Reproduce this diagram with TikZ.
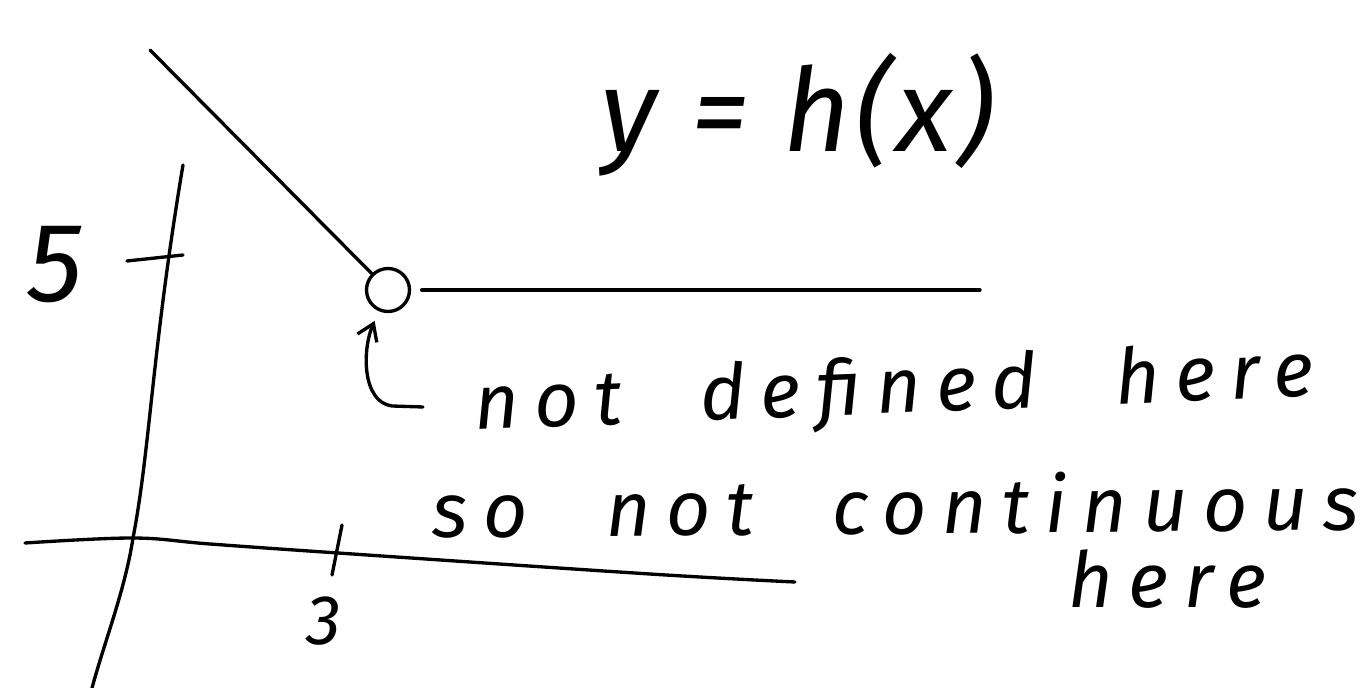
\documentclass[tikz,border=0pt]{standalone}
\usepackage{fontspec}
\usetikzlibrary{arrows.meta, positioning}
\newfontfamily\hand[LetterSpace=20, WordSpace=2.2]{Fira Sans}
\newfontfamily\handeq[LetterSpace=4]{Fira Sans}
\tikzset{
  pen/.style={line width=1.9pt, line cap=round, line join=round},
  scrawl/.style={font=\hand\itshape\fontsize{44}{48}\selectfont, inner sep=0pt, anchor=base west},
  hole/.style={circle, draw, pen, minimum size=0.86cm, inner sep=0pt},
}

\begin{document}
\begin{tikzpicture}[x=0.02cm, y=-0.02cm]
    \useasboundingbox (0,0) rectangle (1368,688);

    % --- axes ---
    \draw[pen] (183,165) .. controls (152,350) and (150,450) .. (133,538)
               .. controls (125,590) and (105,640) .. (92,688);
    \draw[pen] plot[smooth, tension=0.6] coordinates {(25,543) (133,538) (210,544) (338,553) (650,574) (795,582)};

    % ticks and their numbers
    \draw[pen] (127,261) -- (183,255);
    \draw[pen] (342,525) -- (332,575);
    \node[font=\hand\itshape\fontsize{64}{66}\selectfont, inner sep=0pt] (ticklabel5) at (55,265) {5};
    \node[font=\hand\itshape\fontsize{40}{44}\selectfont, inner sep=0pt] (ticklabel3) at (324,621) {3};

    % --- graph of h ---
    \coordinate (topleft) at (150,50);
    \coordinate (rightend) at (980,290);
    \node[hole] (gap) at (388,290) {};
    \draw[pen] (topleft) -- (gap);
    \draw[pen, shorten <=6pt] (gap) -- (rightend);

    \node[scrawl, font=\handeq\itshape\fontsize{66}{70}\selectfont] (eqlabel) at (600,152) {y = h(x)};

    % --- notes ---
    \coordinate (hooktail) at (423,407);
    \draw[pen, -{Straight Barb[length=9pt, width=12pt]}, shorten >=6pt]
        (hooktail) -- (392,406) .. controls (362,402) and (362,350) .. (gap);

    \node[scrawl, rotate=2.3] (notedef) at (475,430) {not defined here};
    \node[scrawl, rotate=0.5] (notecont) at (432,538) {so not continuous};
    \node[scrawl] (notehere) at (1068,607) {here};

\end{tikzpicture}
\end{document}
